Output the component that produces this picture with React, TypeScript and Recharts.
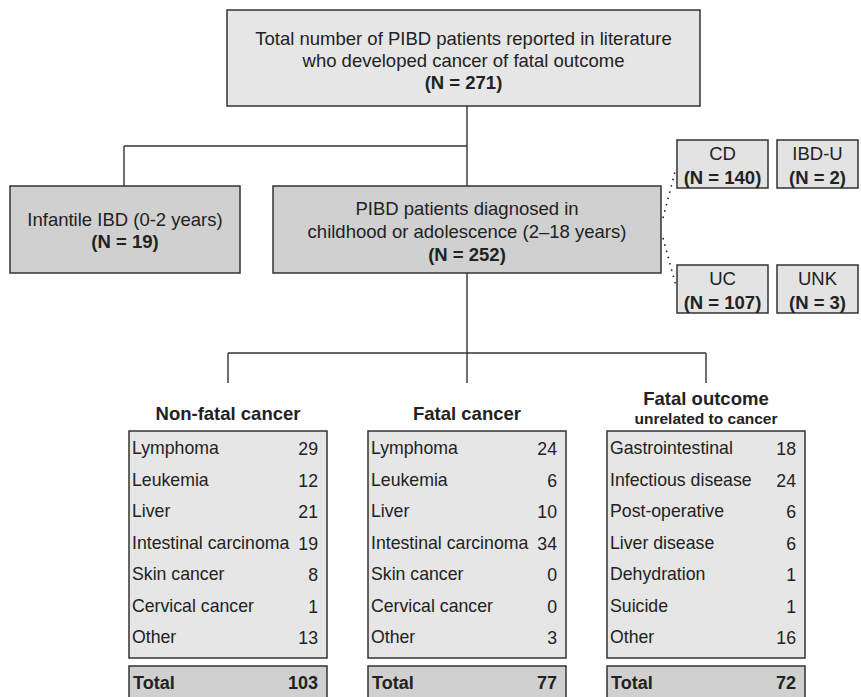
import { ScatterChart, Scatter, XAxis, YAxis, ReferenceArea, ReferenceLine } from 'recharts'

const FONT = '"Liberation Sans", Arial, Helvetica, sans-serif'
const INK = '#222'

// ---- values ----
const topLines = ['Total number of PIBD patients reported in literature', 'who developed cancer of fatal outcome']
const totalPatients = 271
const infantileLines = ['Infantile IBD (0-2 years)']
const infantilePatients = 19
const childhoodLines = ['PIBD patients diagnosed in', 'childhood or adolescence (2\u201318 years)']
const childhoodPatients = 252

const subtypeNames = ['CD', 'IBD-U', 'UC', 'UNK']
const subtypeCounts = [140, 2, 107, 3]

const tableTitles = ['Non-fatal cancer', 'Fatal cancer', 'Fatal outcome']
const tableSubtitles = ['', '', 'unrelated to cancer']

const cancerCategories = ['Lymphoma', 'Leukemia', 'Liver', 'Intestinal carcinoma', 'Skin cancer', 'Cervical cancer', 'Other']
const nonFatalValues = [29, 12, 21, 19, 8, 1, 13]
const fatalValues = [24, 6, 10, 34, 0, 0, 3]
const outcomeCategories = ['Gastrointestinal', 'Infectious disease', 'Post-operative', 'Liver disease', 'Dehydration', 'Suicide', 'Other']
const outcomeValues = [18, 24, 6, 6, 1, 1, 16]
const tableTotals = [103, 77, 72]

// ---- layout (pixel space of the 861x697 canvas) ----
const W = 861
const H = 697
const topBox = { x1: 227, x2: 700, y1: 10, y2: 106 }
const infantileBox = { x1: 10, x2: 240, y1: 186, y2: 273 }
const childhoodBox = { x1: 273, x2: 661, y1: 186, y2: 273 }
const subtypeBoxes = [
  { x1: 677, x2: 768, y1: 140, y2: 188 },
  { x1: 777, x2: 858, y1: 140, y2: 188 },
  { x1: 677, x2: 768, y1: 265, y2: 313 },
  { x1: 777, x2: 858, y1: 265, y2: 313 },
]
const colLeft = [129, 368, 607]
const colWidth = 198
const tableTop = 431
const tableBottom = 658
const rowStart = 448
const rowStep = 31.5
const totalTop = 666

const connectors = [
  [[467, 106], [467, 186]],
  [[124, 146], [467, 146]],
  [[124, 146], [124, 186]],
  [[467, 273], [467, 383]],
  [[228, 353], [706, 353]],
  [[228, 353], [228, 383]],
  [[706, 353], [706, 383]],
]
const dotted = [
  [[663, 218], [676, 168]],
  [[663, 238], [676, 286]],
]

type Line = { text: string; bold?: boolean; size?: number }

function boxLabel(lines: Line[], gap: number, shift = 0) {
  return (props: any) => {
    const vb = props.viewBox || {}
    const cx = vb.x + vb.width / 2
    const cy = vb.y + vb.height / 2 + shift
    const y0 = cy - ((lines.length - 1) * gap) / 2
    return (
      <g>
        {lines.map((l, i) => (
          <text
            key={i}
            x={cx}
            y={y0 + i * gap}
            textAnchor="middle"
            dominantBaseline="central"
            fontFamily={FONT}
            fontSize={l.size ?? 18.5}
            fontWeight={l.bold ? 700 : 400}
            fill={INK}
          >
            {l.text}
          </text>
        ))}
      </g>
    )
  }
}

function TableCell(props: any) {
  const { cx, cy, payload } = props
  return (
    <text
      x={cx}
      y={cy}
      textAnchor={payload.anchor}
      dominantBaseline="central"
      fontFamily={FONT}
      fontSize={payload.size}
      fontWeight={payload.bold ? 700 : 400}
      fill={INK}
    >
      {payload.text}
    </text>
  )
}

function tableCells(col: number, cats: string[], vals: number[]) {
  const left = colLeft[col]
  const right = left + colWidth
  const cells: any[] = []
  cats.forEach((c, i) => {
    const y = rowStart + i * rowStep
    cells.push({ x: left + 3, y, text: c, anchor: 'start', size: 17.7 })
    cells.push({ x: right - 9, y: y + 1, text: String(vals[i]), anchor: 'end', size: 17.7 })
  })
  const ty = (totalTop + H) / 2 + 1
  cells.push({ x: left + 4, y: ty, text: 'Total', anchor: 'start', size: 18, bold: true })
  cells.push({ x: right - 9, y: ty, text: String(tableTotals[col]), anchor: 'end', size: 18, bold: true })
  const cxm = left + colWidth / 2
  if (tableSubtitles[col]) {
    cells.push({ x: cxm, y: 398, text: tableTitles[col], anchor: 'middle', size: 18.5, bold: true })
    cells.push({ x: cxm, y: 418, text: tableSubtitles[col], anchor: 'middle', size: 15.5, bold: true })
  } else {
    cells.push({ x: cxm, y: 413, text: tableTitles[col], anchor: 'middle', size: 18.5, bold: true })
  }
  return cells
}

const tables = [
  tableCells(0, cancerCategories, nonFatalValues),
  tableCells(1, cancerCategories, fatalValues),
  tableCells(2, outcomeCategories, outcomeValues),
]

export default function App() {
  return (
    <div style={{ position: 'absolute', left: 0, top: 0, width: W, height: H, background: '#fff' }}>
      <ScatterChart width={W} height={H} margin={{ top: 0, right: 0, bottom: 0, left: 0 }}>
        <XAxis type="number" dataKey="x" domain={[0, W]} hide allowDataOverflow />
        <YAxis type="number" dataKey="y" domain={[0, H]} reversed hide allowDataOverflow />

        {connectors.map((s, i) => (
          <ReferenceLine
            key={'c' + i}
            segment={[{ x: s[0][0], y: s[0][1] }, { x: s[1][0], y: s[1][1] }]}
            stroke="#333"
            strokeWidth={1.4}
            ifOverflow="visible"
          />
        ))}
        {dotted.map((s, i) => (
          <ReferenceLine
            key={'d' + i}
            segment={[{ x: s[0][0], y: s[0][1] }, { x: s[1][0], y: s[1][1] }]}
            stroke="#222"
            strokeWidth={1.6}
            strokeDasharray="1.5 5"
            ifOverflow="visible"
          />
        ))}

        <ReferenceArea
          {...topBox}
          fill="#e6e6e6"
          fillOpacity={1}
          stroke="#333"
          strokeWidth={1.5}
          ifOverflow="visible"
          label={boxLabel(
            [...topLines.map((t) => ({ text: t })), { text: `(N = ${totalPatients})`, bold: true }],
            22,
            2,
          )}
        />
        <ReferenceArea
          {...infantileBox}
          fill="#d0d0d0"
          fillOpacity={1}
          stroke="#333"
          strokeWidth={1.5}
          ifOverflow="visible"
          label={boxLabel(
            [...infantileLines.map((t) => ({ text: t })), { text: `(N = ${infantilePatients})`, bold: true }],
            22,
            1,
          )}
        />
        <ReferenceArea
          {...childhoodBox}
          fill="#d0d0d0"
          fillOpacity={1}
          stroke="#333"
          strokeWidth={1.5}
          ifOverflow="visible"
          label={boxLabel(
            [...childhoodLines.map((t) => ({ text: t })), { text: `(N = ${childhoodPatients})`, bold: true }],
            23,
            2,
          )}
        />
        {subtypeBoxes.map((b, i) => (
          <ReferenceArea
            key={'s' + i}
            {...b}
            fill="#e3e3e3"
            fillOpacity={1}
            stroke="#333"
            strokeWidth={1.5}
            ifOverflow="visible"
            label={boxLabel(
              [{ text: subtypeNames[i] }, { text: `(N = ${subtypeCounts[i]})`, bold: true }],
              24,
              1,
            )}
          />
        ))}

        {colLeft.map((x, i) => (
          <ReferenceArea
            key={'t' + i}
            x1={x}
            x2={x + colWidth}
            y1={tableTop}
            y2={tableBottom}
            fill="#e6e6e6"
            fillOpacity={1}
            stroke="#333"
            strokeWidth={1.5}
            ifOverflow="visible"
          />
        ))}
        {colLeft.map((x, i) => (
          <ReferenceArea
            key={'tt' + i}
            x1={x}
            x2={x + colWidth}
            y1={totalTop}
            y2={H + 6}
            fill="#d0d0d0"
            fillOpacity={1}
            stroke="#333"
            strokeWidth={1.5}
            ifOverflow="visible"
          />
        ))}

        {tables.map((cells, i) => (
          <Scatter key={'sc' + i} data={cells} shape={TableCell} isAnimationActive={false} />
        ))}
      </ScatterChart>
    </div>
  )
}
